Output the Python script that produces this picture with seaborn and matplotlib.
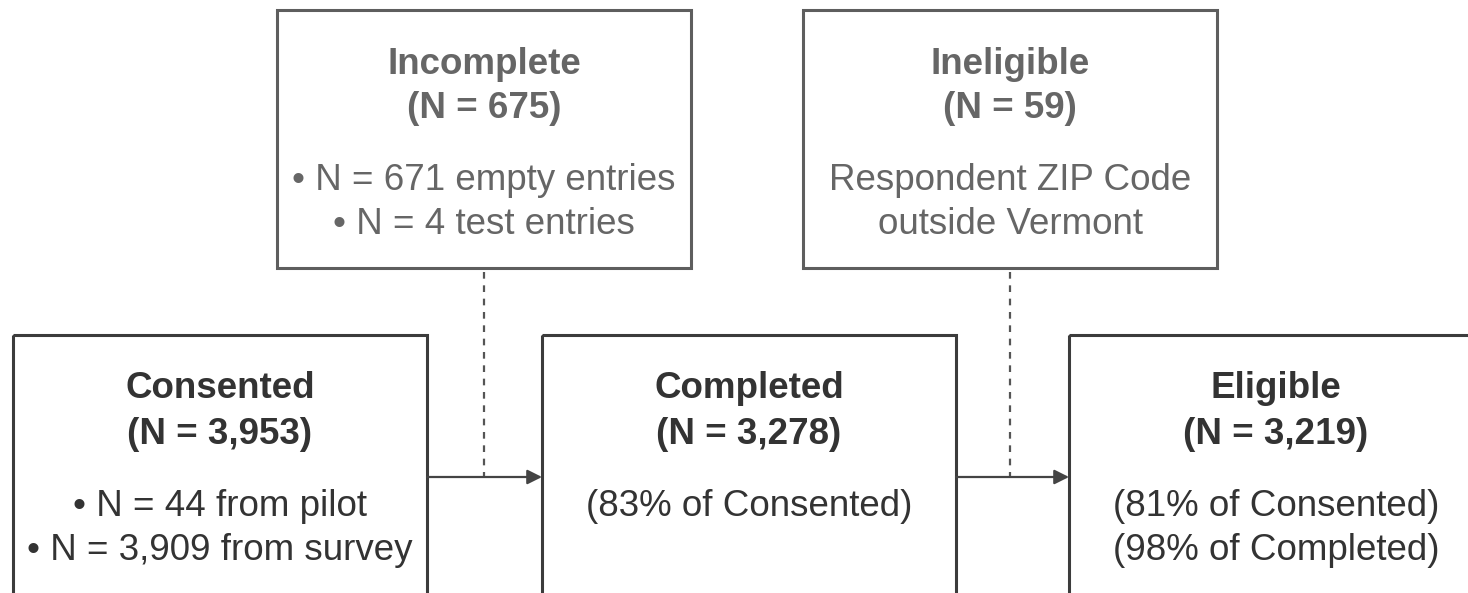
import matplotlib.pyplot as plt
import seaborn as sns
from matplotlib.patches import Rectangle

# flow boxes (bottom row) and exclusion boxes (top row)
main_titles = ['Consented', 'Completed', 'Eligible']
main_counts = ['(N = 3,953)', '(N = 3,278)', '(N = 3,219)']
main_notes = [['• N = 44 from pilot', '• N = 3,909 from survey'],
              ['(83% of Consented)'],
              ['(81% of Consented)', '(98% of Completed)']]

excl_titles = ['Incomplete', 'Ineligible']
excl_counts = ['(N = 675)', '(N = 59)']
excl_notes = [['• N = 671 empty entries', '• N = 4 test entries'],
              ['Respondent ZIP Code', 'outside Vermont']]

sns.set_theme(style='white')
plt.rcParams['font.family'] = ['Liberation Sans', 'DejaVu Sans']

fig = plt.figure(figsize=(14.68, 5.93), dpi=100)
ax = fig.add_axes([0, 0, 1, 1])
ax.set_xlim(0, 1468)
ax.set_ylim(593, 0)
ax.axis('off')

fs = 26.5
main_x = [13, 542, 1069]
box_w = 414
main_top = 335
excl_x = [277, 803]
excl_top, excl_bot = 10, 268
dark = '#333333'
grey = '#666666'


def draw_box(x0, y0, h, title, count, notes, tc, ec):
    ax.add_patch(Rectangle((x0, y0), box_w, h, fill=False, ec=ec, lw=2.2))
    cx = x0 + box_w / 2
    ax.text(cx, y0 + 54, title, ha='center', va='center', fontsize=fs,
            fontweight='bold', color=tc)
    ax.text(cx, y0 + 99, count, ha='center', va='center', fontsize=fs,
            fontweight='bold', color=tc)
    for i, line in enumerate(notes):
        ax.text(cx, y0 + 171 + i * 44, line, ha='center', va='center',
                fontsize=fs, color=tc)


for i in range(3):
    draw_box(main_x[i], main_top, 300, main_titles[i], main_counts[i],
             main_notes[i], dark, '#3c3c3c')

for i in range(2):
    draw_box(excl_x[i], excl_top, excl_bot - excl_top, excl_titles[i],
             excl_counts[i], excl_notes[i], grey, '#5e5e5e')

arrow_y = 477
for i in range(2):
    x_start = main_x[i] + box_w
    x_end = main_x[i + 1]
    ax.annotate('', xy=(x_end, arrow_y), xytext=(x_start, arrow_y),
                arrowprops=dict(arrowstyle='-|>', color='#444444', lw=1.6,
                                mutation_scale=22, shrinkA=0, shrinkB=0))
    cx = excl_x[i] + box_w / 2
    ax.plot([cx, cx], [excl_bot + 4, arrow_y], color='#555555', lw=1.6,
            linestyle=(0, (3, 3)))

fig.savefig('out.png', dpi=100)
